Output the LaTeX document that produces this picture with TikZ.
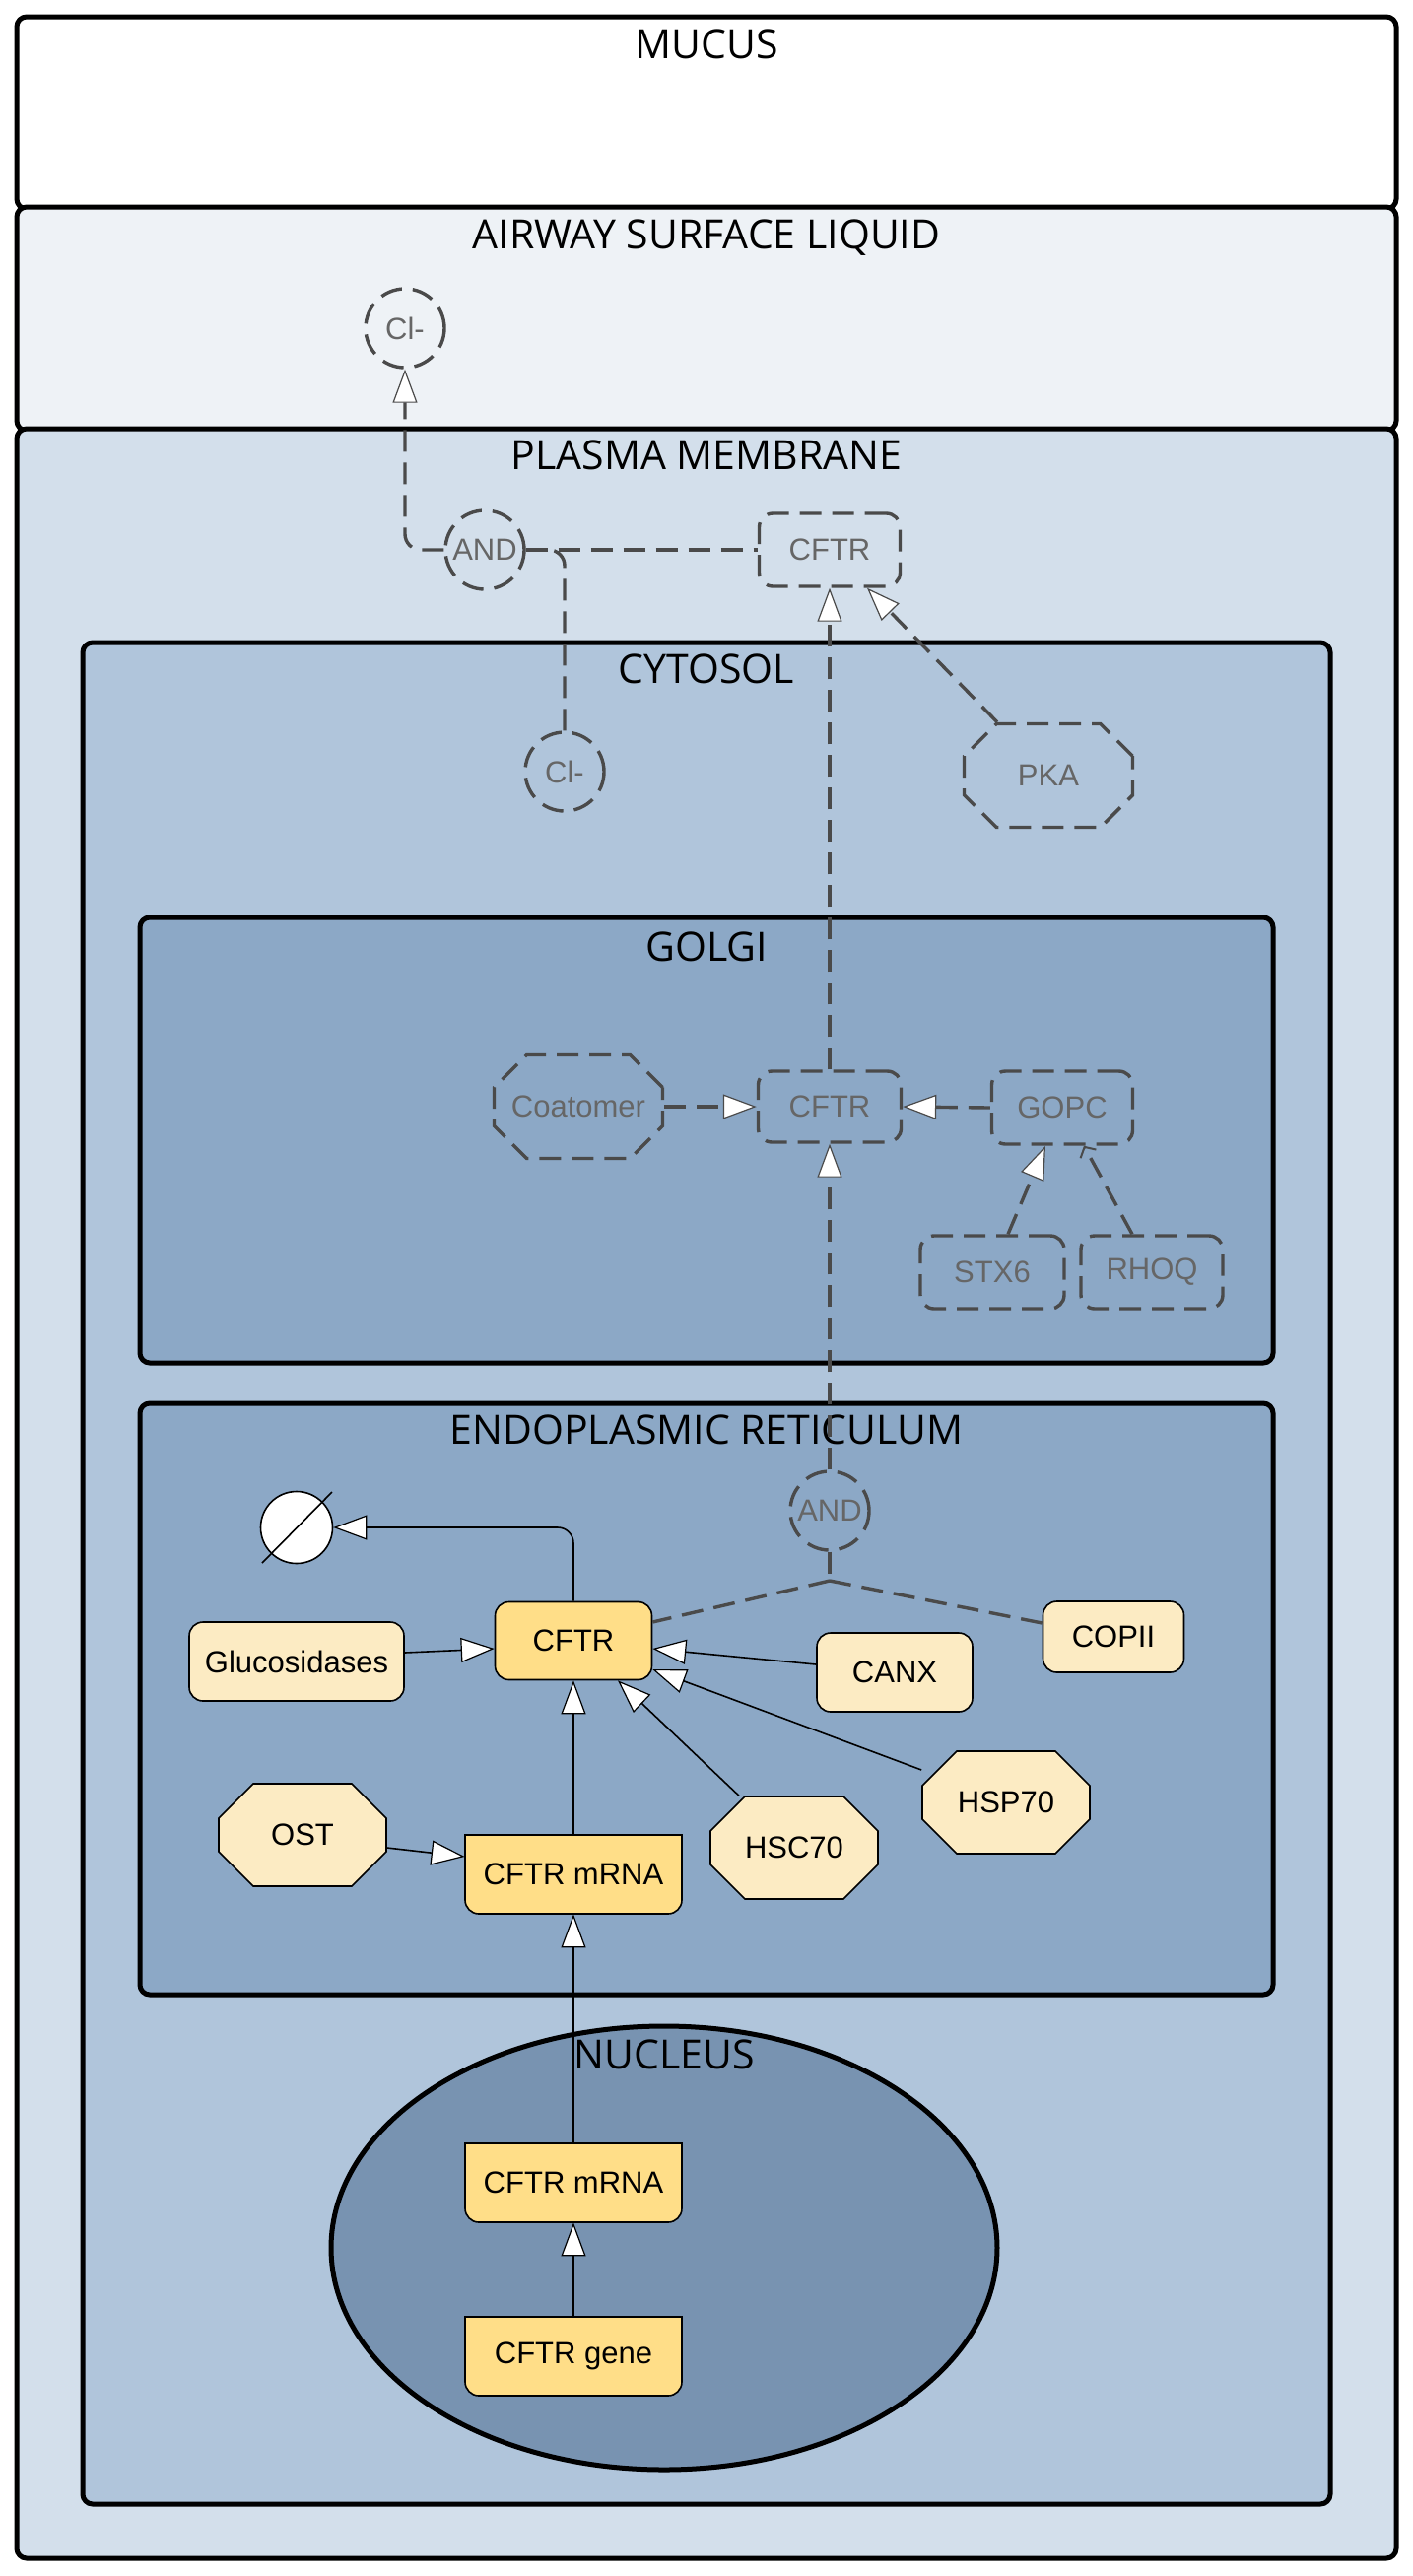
\documentclass[tikz,border=0pt]{standalone}
\usepackage{fontspec}
\setmainfont{Liberation Sans}
\newfontfamily\compfont{Open Sans}
\usetikzlibrary{arrows.meta,shapes.misc,calc}
\definecolor{aslc}{HTML}{EEF2F6}
\definecolor{pmc}{HTML}{D3DFEB}
\definecolor{cytc}{HTML}{B0C5DB}
\definecolor{orgc}{HTML}{8CA8C6}
\definecolor{nucc}{HTML}{7893B1}
\definecolor{dgray}{HTML}{4A4A4A}
\definecolor{tgray}{HTML}{666666}
\definecolor{cftryel}{HTML}{FFDE88}
\definecolor{lightyel}{HTML}{FCEBC3}
\tikzset{
  comp/.style={draw=black, line width=2.5pt, rounded corners=5pt},
  clabel/.style={font=\compfont\fontsize{20.5pt}{24pt}\selectfont, anchor=base, inner sep=0pt},
  nfont/.style={font=\fontsize{15.5pt}{18pt}\selectfont},
  dsh/.style={draw=dgray, line width=1.7pt, dash pattern=on 11pt off 5.5pt},
  dbox/.style={dsh, rectangle, rounded corners=7pt, text=tgray, nfont, inner sep=0pt},
  doct/.style={dsh, chamfered rectangle, chamfered rectangle sep=11pt, text=tgray, nfont, inner sep=0pt, minimum width=85.5pt, minimum height=52.5pt},
  dcirc/.style={dsh, circle, text=tgray, nfont, inner sep=0pt, minimum size=40pt},
  sbox/.style={draw=black, line width=0.8pt, fill=lightyel, rectangle, rounded corners=7pt, nfont, inner sep=0pt},
  soct/.style={draw=black, line width=0.8pt, fill=lightyel, chamfered rectangle, chamfered rectangle sep=12pt, nfont, inner sep=0pt, minimum width=85pt, minimum height=52pt},
  opentip/.tip={Triangle[length=17pt,width=12.5pt,fill=white,line width=0.6pt]},
  sarr/.style={draw=black, line width=0.8pt, -opentip},
  darr/.style={dsh, -opentip},
}
\newcommand\nucacid[4]{%
  \draw[line width=0.8pt, fill=cftryel, shift={(#2,#3)}] (-110,-40) -- (110,-40) -- (110,26)
    arc[start angle=0,end angle=-90,radius=7pt] -- (-96,40)
    arc[start angle=270,end angle=180,radius=7pt] -- cycle;
  \node[nfont, minimum width=110pt, minimum height=40pt, inner sep=0pt] (#1) at (#2,#3) {#4};}
\begin{document}
\begin{tikzpicture}[x=0.5pt,y=-0.5pt]
\useasboundingbox (0,0) rectangle (1434,2614);
% compartments
\draw[comp, fill=white] (17,17) rectangle (1417,212);
\draw[comp, fill=aslc] (17,210) rectangle (1417,437);
\draw[comp, fill=pmc] (17,435) rectangle (1417,2596);
\draw[comp, fill=cytc] (84,652) rectangle (1350,2541);
\draw[comp, fill=orgc] (142,931) rectangle (1292,1383);
\draw[comp, fill=orgc] (142,1424) rectangle (1292,2024);
\draw[line width=2.5pt, fill=nucc] (674,2281) ellipse [x radius=169pt, y radius=112.5pt];
% compartment labels
\node[clabel] (lmucus) at (717,59) {MUCUS};
\node[clabel] (lasl) at (717,252) {AIRWAY SURFACE LIQUID};
\node[clabel] (lpm) at (717,476) {PLASMA MEMBRANE};
\node[clabel] (lcyt) at (717,693) {CYTOSOL};
\node[clabel] (lgolgi) at (717,975) {GOLGI};
\node[clabel] (ler) at (717,1465) {ENDOPLASMIC RETICULUM};
\node[clabel] (lnuc) at (674,2099) {NUCLEUS};
% dashed nodes
\node[dcirc] (clasl) at (411,333) {Cl-};
\node[dcirc] (andpm) at (492,558) {AND};
\node[dbox, minimum width=71.5pt, minimum height=37pt] (cftrpm) at (842,558) {CFTR};
\node[dcirc] (clcyto) at (573,783) {Cl-};
\node[doct] (pka) at (1064,787) {PKA};
\node[doct] (coat) at (587,1123) {Coatomer};
\node[dbox, minimum width=72.5pt, minimum height=36pt] (cftrg) at (842,1123) {CFTR};
\node[dbox, minimum width=71.5pt, minimum height=37pt] (gopc) at (1078,1124) {GOPC};
\node[dbox, minimum width=73pt, minimum height=37pt] (stx6) at (1007,1291) {STX6};
\node[dbox, minimum width=72pt, minimum height=37pt] (rhoq) at (1169,1291) {RHOQ};
\node[dcirc] (ander) at (842,1533) {AND};
% solid nodes
\node[circle, draw=black, fill=white, line width=0.8pt, minimum size=36.5pt, inner sep=0pt] (deg) at (301,1550) {};
\draw[line width=0.8pt] ([shift={(18pt,18pt)}]deg.center) -- ([shift={(-17.5pt,-18pt)}]deg.center);
\node[sbox, fill=cftryel, minimum width=79.5pt, minimum height=39.5pt] (cftrer) at (582,1665) {CFTR};
\node[sbox, minimum width=109pt, minimum height=40pt] (gluc) at (301,1686) {Glucosidases};
\node[sbox, minimum width=79pt, minimum height=40pt] (canx) at (908,1697) {CANX};
\node[sbox, minimum width=71.5pt, minimum height=36pt] (copii) at (1130,1661) {COPII};
\node[soct] (hsp) at (1021,1829) {HSP70};
\node[soct] (hsc) at (806,1875) {HSC70};
\node[soct] (ost) at (307,1862) {OST};
\nucacid{mrnaer}{582}{1902}{CFTR mRNA}
\nucacid{mrnanuc}{582}{2215}{CFTR mRNA}
\nucacid{gene}{582}{2391}{CFTR gene}
% dashed connectors
\draw[darr, rounded corners=8pt] (andpm.west) -| (clasl.south);
\draw[dsh, rounded corners=8pt] (clcyto.north) |- (andpm.east);
\draw[dsh] (andpm.east) -- (cftrpm.west);
\draw[darr] (cftrg.north) -- (cftrpm.south);
\draw[darr] ([xshift=-26pt]pka.north) -- ([xshift=19pt]cftrpm.south);
\draw[darr] (coat.east) -- (cftrg.west);
\draw[darr] (gopc.west) -- (cftrg.east);
\draw[darr] ([xshift=8pt]stx6.north) -- ([xshift=-8.5pt]gopc.south);
\draw[dsh, -{Straight Barb[length=4pt,width=9pt,line width=1pt]}] ([xshift=-10pt]rhoq.north) -- ([xshift=11pt]gopc.south);
\draw[darr] (ander.north) -- (cftrg.south);
\coordinate (j) at (842,1604);
\draw[dsh] (ander.south) -- (j);
\draw[dsh] (j) -- ([yshift=9.5pt]cftrer.east);
\draw[dsh] (j) -- ([yshift=7pt]copii.west);
% solid connectors
\draw[sarr, rounded corners=8pt] (cftrer.north) |- (deg.east);
\draw[sarr] ([yshift=4.5pt]gluc.east) -- ([yshift=-4pt]cftrer.west);
\draw[sarr] ([yshift=4pt]canx.west) -- ([yshift=-4pt]cftrer.east);
\draw[sarr] ([yshift=16.5pt]hsp.west) -- ([yshift=-14.5pt]cftrer.east);
\draw[sarr] ([xshift=-28pt]hsc.north) -- ([xshift=22.5pt]cftrer.south);
\draw[sarr] (mrnaer.north) -- (cftrer.south);
\draw[sarr] ([yshift=-6.5pt]ost.east) -- ([yshift=9pt]mrnaer.west);
\draw[sarr] (mrnanuc.north) -- (mrnaer.south);
\draw[sarr] (gene.north) -- (mrnanuc.south);
\end{tikzpicture}
\end{document}
